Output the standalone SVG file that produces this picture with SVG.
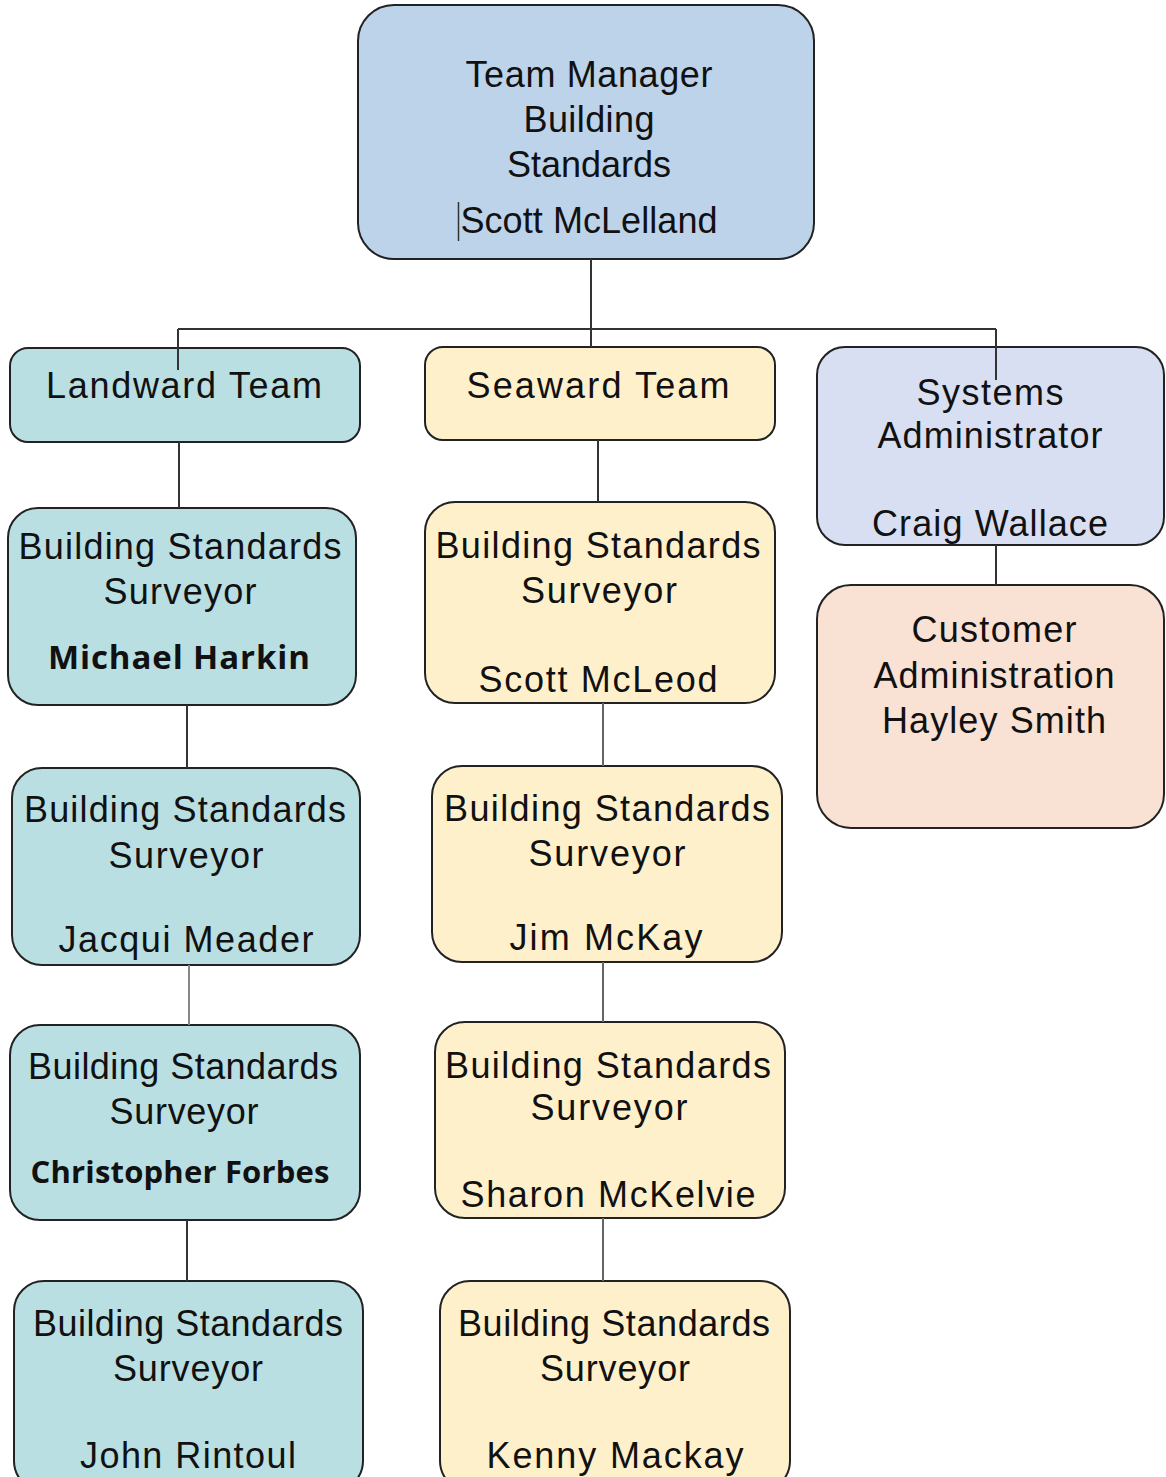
<svg xmlns="http://www.w3.org/2000/svg" width="1166" height="1477" viewBox="0 0 1166 1477">
<style>
.box{stroke:#222;stroke-width:2}
.blue{fill:#bdd3ea}
.land{fill:#b9dfe3}
.sea{fill:#fff0cc}
.sys{fill:#d9dff2}
.cust{fill:#f9e1d4}
text{font-family:"Liberation Sans",Arial,sans-serif;font-size:36px;fill:#111;text-anchor:middle}
text.b{font-family:"Open Sans","Liberation Sans",sans-serif;font-weight:bold;font-size:31px}
.conn line{stroke:#333;stroke-width:2}
</style>
<rect width="1166" height="1477" fill="#fff"/>
<g id="manager">
<rect class="box blue" x="358" y="5" width="456" height="254" rx="36"/>
<text x="589" y="87" textLength="247">Team Manager</text>
<text x="589" y="132" textLength="131">Building</text>
<text x="589" y="177" textLength="164">Standards</text>
<line x1="458.5" y1="202" x2="458.5" y2="241" stroke="#333" stroke-width="1.5"/>
<text x="589" y="233" textLength="257">Scott McLelland</text>
</g>
<g id="landward">
<rect class="box land" x="10" y="348" width="350" height="94" rx="18"/>
<text x="184" y="398" textLength="276">Landward Team</text>
</g>
<g id="seaward">
<rect class="box sea" x="425" y="347" width="350" height="93" rx="18"/>
<text x="598" y="398" textLength="263">Seaward Team</text>
</g>
<g id="sysadmin">
<rect class="box sys" x="817" y="347" width="347" height="198" rx="28"/>
<text x="990" y="405" textLength="147">Systems</text>
<text x="990" y="448" textLength="225">Administrator</text>
<text x="990" y="536" textLength="236">Craig Wallace</text>
</g>
<g id="custadmin">
<rect class="box cust" x="817" y="585" width="347" height="243" rx="34"/>
<text x="994" y="642" textLength="165">Customer</text>
<text x="994" y="688" textLength="241">Administration</text>
<text x="994" y="733" textLength="224">Hayley Smith</text>
</g>
<g id="harkin">
<rect class="box land" x="8" y="508" width="348" height="197" rx="30"/>
<text x="180" y="559" textLength="323">Building Standards</text>
<text x="180" y="604" textLength="153">Surveyor</text>
<text class="b" x="179" y="669" textLength="262" style="font-size:33px">Michael Harkin</text>
</g>
<g id="meader">
<rect class="box land" x="12" y="768" width="348" height="197" rx="30"/>
<text x="185" y="822" textLength="322">Building Standards</text>
<text x="186" y="868" textLength="155">Surveyor</text>
<text x="186" y="952" textLength="255">Jacqui Meader</text>
</g>
<g id="forbes">
<rect class="box land" x="10" y="1025" width="350" height="195" rx="30"/>
<text x="183" y="1079" textLength="310">Building Standards</text>
<text x="184" y="1124" textLength="149">Surveyor</text>
<text class="b" x="180" y="1183" textLength="299">Christopher Forbes</text>
</g>
<g id="rintoul">
<rect class="box land" x="14" y="1281" width="349" height="210" rx="30"/>
<text x="188" y="1336" textLength="310">Building Standards</text>
<text x="188" y="1381" textLength="150">Surveyor</text>
<text x="188" y="1468" textLength="216">John Rintoul</text>
</g>
<g id="mcleod">
<rect class="box sea" x="425" y="502" width="350" height="201" rx="30"/>
<text x="598" y="558" textLength="325">Building Standards</text>
<text x="599" y="603" textLength="156">Surveyor</text>
<text x="598" y="692" textLength="239">Scott McLeod</text>
</g>
<g id="mckay">
<rect class="box sea" x="432" y="766" width="350" height="196" rx="30"/>
<text x="607" y="821" textLength="326">Building Standards</text>
<text x="607" y="866" textLength="157">Surveyor</text>
<text x="606" y="950" textLength="193">Jim McKay</text>
</g>
<g id="mckelvie">
<rect class="box sea" x="435" y="1022" width="350" height="196" rx="30"/>
<text x="608" y="1078" textLength="326">Building Standards</text>
<text x="609" y="1120" textLength="157">Surveyor</text>
<text x="608" y="1207" textLength="295">Sharon McKelvie</text>
</g>
<g id="mackay">
<rect class="box sea" x="440" y="1281" width="350" height="210" rx="30"/>
<text x="614" y="1336" textLength="312">Building Standards</text>
<text x="615" y="1381" textLength="150">Surveyor</text>
<text x="615" y="1468" textLength="257">Kenny Mackay</text>
</g>
<g id="connectors" class="conn">
<line x1="591" y1="259" x2="591" y2="347"/>
<line x1="178" y1="329" x2="996" y2="329"/>
<line x1="178" y1="329" x2="178" y2="370"/>
<line x1="996" y1="329" x2="996" y2="380"/>
<line x1="179" y1="442" x2="179" y2="508"/>
<line x1="187" y1="705" x2="187" y2="768"/>
<line x1="189" y1="965" x2="189" y2="1025" style="stroke:#888"/>
<line x1="187" y1="1220" x2="187" y2="1281"/>
<line x1="598" y1="440" x2="598" y2="502"/>
<line x1="603" y1="703" x2="603" y2="766" style="stroke:#666"/>
<line x1="603" y1="962" x2="603" y2="1022" style="stroke:#666"/>
<line x1="603" y1="1218" x2="603" y2="1281" style="stroke:#666"/>
<line x1="996" y1="545" x2="996" y2="585"/>
</g>
</svg>
